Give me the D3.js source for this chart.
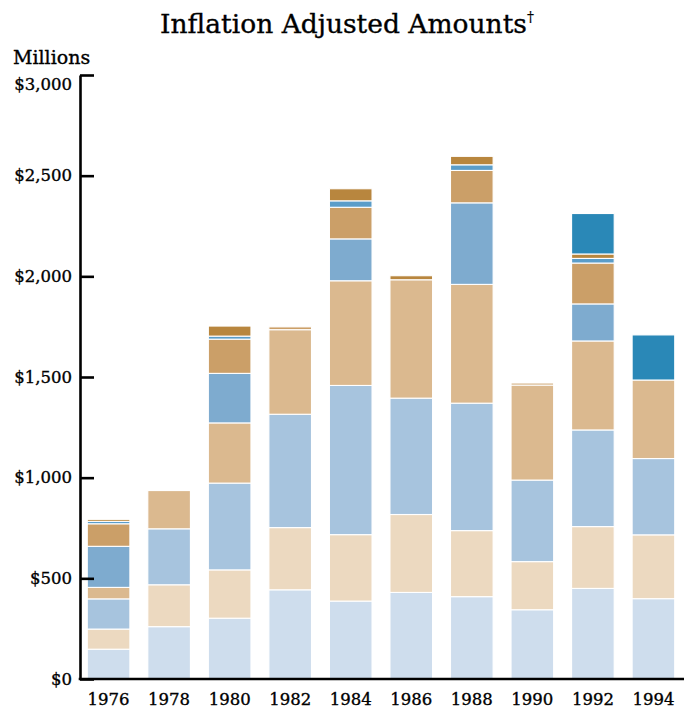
<!DOCTYPE html>
<html>
<head>
<meta charset="utf-8">
<script src="https://cdn.jsdelivr.net/npm/d3@7"></script>
<style>
  body { margin: 0; background: #fff; }
  text { font-family: "DejaVu Serif", serif; fill: #000; stroke: #000; stroke-width: 0.35; }
</style>
</head>
<body>
<script>
// data (millions of dollars, one value per year)
var years = ["1976", "1978", "1980", "1982", "1984", "1986", "1988", "1990", "1992", "1994"];
var layer1 = [148, 260, 302, 443, 387, 430, 409, 344, 450, 399];
var layer2 = [100, 208, 240, 309, 330, 387, 328, 239, 307, 317];
var layer3 = [150, 278, 431, 563, 741, 578, 633, 405, 480, 379];
var layer4 = [57, 190, 299, 420, 520, 588, 590, 472, 442, 390];
var layer5 = [204, 0, 246, 0, 208, 0, 405, 0, 184, 0];
var layer6 = [112, 0, 170, 14, 157, 0, 161, 10, 203, 0];
var layer7 = [12, 0, 15, 0, 32, 0, 28, 0, 23, 0];
var layer8 = [10, 0, 50, 0, 60, 20, 42, 0, 22, 0];
var layer9 = [0, 0, 0, 0, 0, 0, 0, 0, 201, 224];
var tickValues = [0, 500, 1000, 1500, 2000, 2500, 3000];

var layers = [layer1, layer2, layer3, layer4, layer5, layer6, layer7, layer8, layer9];
var keys = ["l1", "l2", "l3", "l4", "l5", "l6", "l7", "l8", "l9"];
var colors = ["#cedded", "#ecd9c0", "#a7c4de", "#dbb98f", "#7eabcf", "#cb9f68", "#5b9dc9", "#b8863e", "#2a88b7"];

// build rows for d3.stack
var rows = years.map(function(y, i) {
  var row = { year: y };
  keys.forEach(function(k, j) { row[k] = layers[j][i]; });
  return row;
});

var widthSvg = 694;
var heightSvg = 709;
var axisX = 80;
var zeroY = 679;
var topY = 75;

var svg = d3.select("body")
          .append("svg")
          .attr("width", widthSvg)
          .attr("height", heightSvg);

var x = d3.scaleBand()
          .domain(years)
          .range([axisX, 682])
          .paddingInner(0.296)
          .paddingOuter(0.12);

var y = d3.scaleLinear()
          .domain([0, 3000])
          .range([zeroY, topY]);

var color = d3.scaleOrdinal().domain(keys).range(colors);

var stacked = d3.stack().keys(keys)(rows);

// bars
svg.append("g")
   .selectAll("g")
   .data(stacked)
   .enter()
   .append("g")
   .attr("fill", function(d) { return color(d.key); })
   .selectAll("rect")
   .data(function(d) { return d.filter(function(p) { return p[1] - p[0] > 0; }); })
   .enter()
   .append("rect")
   .attr("x", function(d) { return x(d.data.year); })
   .attr("y", function(d) { return y(d[1]); })
   .attr("width", x.bandwidth())
   .attr("height", function(d) { return y(d[0]) - y(d[1]); })
   .attr("stroke", "#fff")
   .attr("stroke-width", 1.1);

// y axis: ticks point into the plot
var yAxis = d3.axisLeft(y)
              .tickValues(tickValues)
              .tickSizeInner(-14)
              .tickSizeOuter(0)
              .tickPadding(8)
              .tickFormat(function(d) { return "$" + d3.format(",")(d); });

var gy = svg.append("g")
   .attr("transform", "translate(" + axisX + ",0)")
   .call(yAxis);
gy.select(".domain").attr("stroke", "#000").attr("stroke-width", 2.6);
gy.selectAll(".tick line").attr("stroke", "#000").attr("stroke-width", 2.6);
gy.selectAll(".tick text")
  .attr("font-size", 16.5)
  .attr("font-family", "DejaVu Serif")
  .attr("dy", function(d) { return d === 3000 ? "0.85em" : "0.32em"; });

// x axis
var xAxis = d3.axisBottom(x).tickSize(0).tickPadding(14);
var gx = svg.append("g")
   .attr("transform", "translate(0," + zeroY + ")")
   .call(xAxis);
gx.select(".domain").attr("stroke", "#000").attr("stroke-width", 2.6)
  .attr("d", "M" + (axisX - 1.3) + ",0H684");
gx.selectAll(".tick text")
  .attr("font-size", 16.5)
  .attr("font-family", "DejaVu Serif");

// unit label
svg.append("text")
   .attr("x", 13)
   .attr("y", 64)
   .attr("font-size", 19)
   .text("Millions");

// title
var title = svg.append("text")
   .attr("x", 347)
   .attr("y", 33)
   .attr("text-anchor", "middle")
   .attr("font-size", 26.5);
title.append("tspan").text("Inflation Adjusted Amounts");
title.append("tspan").attr("font-size", 14).attr("dy", -11).attr("stroke-width", 0.2).text("†");
</script>
</body>
</html>
